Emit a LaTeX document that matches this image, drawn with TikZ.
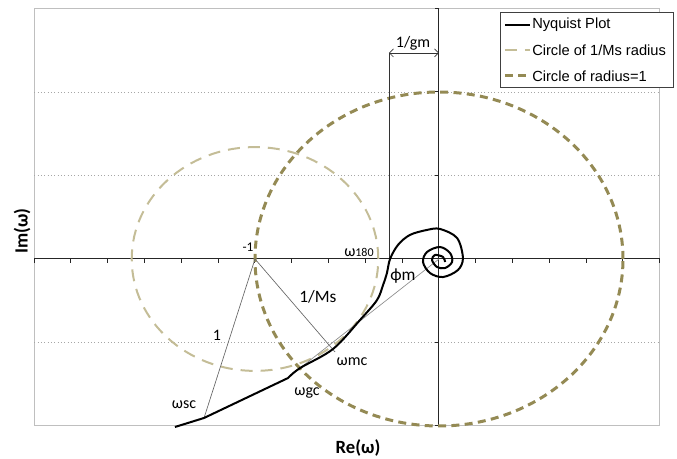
\documentclass[tikz,border=0pt]{standalone}
\usepackage{fontspec}
\setmainfont{Carlito}
\newfontfamily\legendfont{Liberation Sans}
\usetikzlibrary{arrows.meta}

\definecolor{circleone}{HTML}{948A54}
\definecolor{circlems}{HTML}{C4BD97}
\definecolor{gridgray}{HTML}{A6A6A6}
\definecolor{framegray}{HTML}{BFBFBF}

\tikzset{
  frame/.style = {draw=framegray, line width=0.75pt},
  gridline/.style = {draw=gridgray, dotted, line width=0.5pt},
  axisline/.style = {draw=black!85, line width=0.75pt},
  nyquist/.style = {draw=black, line width=1.5pt, line join=round},
  unitcircle/.style = {draw=circleone, line width=2.25pt, dash pattern=on 6pt off 4pt},
  mscircle/.style = {draw=circlems, line width=1.5pt, dash pattern=on 9pt off 6pt},
  guide/.style = {draw=black!60, line width=0.5pt},
  label/.style = {font=\fontsize{12}{14}\selectfont, inner sep=0pt},
  axistitle/.style = {font=\fontsize{14}{16}\selectfont\bfseries, inner sep=0pt},
  legendtext/.style = {font=\legendfont\fontsize{11}{13}\selectfont, anchor=west, inner sep=0pt}
}

\begin{document}
\begin{tikzpicture}[x=138pt, y=125.25pt]
  \useasboundingbox (-2.3859,-1.1976) rectangle (1.2935,1.5509);

  % Plot area and grid
  \draw[frame] (-2.2,-1) rectangle (1.2,1.5);
  \foreach \gy in {-0.5,0.5,1} \draw[gridline] (-2.2,\gy) -- (1.2,\gy);

  % Axes
  \draw[axisline] (-2.2,0) -- (1.2,0);
  \draw[axisline] (0,-1) -- (0,1.5);
  \foreach \i in {0,...,17} \draw[axisline] ({-2.2+0.2*\i},0) -- ++(0,-0.024);
  \foreach \j in {0,...,5} \draw[axisline] (0,{-1+0.5*\j}) -- ++(-0.022,0);

  % Key points
  \coordinate (origin) at (0,0);
  \coordinate (minusone) at (-1,0);
  \coordinate (wsc) at (-1.277,-0.952);
  \coordinate (wgc) at (-0.755,-0.653);
  \coordinate (wmc) at (-0.565,-0.557);
  \coordinate (w180) at (-0.272,0);
  \coordinate (gmleft) at (-0.272,1.234);
  \coordinate (gmright) at (0,1.234);

  % Circles
  \draw[unitcircle] (origin) circle [radius=1];
  \draw[mscircle] (minusone) circle [radius=0.67];

  % Construction lines
  \draw[guide] (minusone) -- (wsc);
  \draw[guide] (minusone) -- (wmc);
  \draw[guide, draw=black!45] (origin) -- (wgc);
  \draw[guide, draw=black!80] (w180) -- (gmleft);
  \draw[guide, draw=black!80, {Straight Barb[length=3pt,width=6pt]}-{Straight Barb[length=3pt,width=6pt]}] (gmleft) -- (gmright);

  % Nyquist plot
  \draw[nyquist] (-1.435,-1.006) -- (wsc) -- plot[smooth, tension=0.55] coordinates {
    (-0.821,-0.713) (-0.755,-0.653) (-0.576,-0.539) (-0.429,-0.365) (-0.337,-0.246)
    (-0.304,-0.156) (-0.283,-0.084) (-0.266,0) (-0.223,0.084) (-0.158,0.144)
    (-0.065,0.174) (0.005,0.180) (0.098,0.126) (0.130,0.006) (0.103,-0.066)
    (0.022,-0.108) (-0.049,-0.084) (-0.087,-0.018) (-0.065,0.042) (0.005,0.072)
    (0.060,0.036) (0.071,-0.018) (0.033,-0.054) (-0.011,-0.048) (-0.038,-0.006)
    (-0.022,0.024) (0.022,0.012) (0.033,-0.018)};

  % Labels
  \node (lminusone) [label, font=\fontsize{10}{12}\selectfont] at (-1.038,0.072) {-1};
  \node (lw180) [label] at (-0.435,0.042) {ω{\fontsize{9}{11}\selectfont 180}};
  \node (lphim) [label, font=\fontsize{13}{15}\selectfont] at (-0.196,-0.102) {ϕm};
  \node (lms) [label, font=\fontsize{13}{15}\selectfont] at (-0.658,-0.228) {1/Ms};
  \node (lone) [label] at (-1.207,-0.455) {1};
  \node (lwmc) [label] at (-0.473,-0.617) {ωmc};
  \node (lwgc) [label] at (-0.717,-0.802) {ωgc};
  \node (lwsc) [label] at (-1.386,-0.874) {ωsc};
  \node (lgm) [label] at (-0.141,1.293) {1/gm};

  % Axis titles
  \node (retitle) [axistitle] at (-0.440,-1.132) {Re(ω)};
  \node (imtitle) [axistitle, rotate=90] at (-2.266,0.168) {Im(ω)};

  % Legend
  \draw[draw=black!75, fill=white, line width=0.5pt] (0.3315,1.03) rectangle (1.2717,1.479);
  \draw[nyquist] (0.3587,1.401) -- (0.4946,1.401);
  \draw[mscircle] (0.3587,1.251) -- (0.4946,1.251);
  \draw[unitcircle] (0.3587,1.096) -- (0.4946,1.096);
  \node (legnyq) [legendtext] at (0.5054,1.401) {Nyquist Plot};
  \node (legms) [legendtext] at (0.5054,1.251) {Circle of 1/Ms radius};
  \node (legone) [legendtext] at (0.5054,1.096) {Circle of radius=1};
\end{tikzpicture}
\end{document}
